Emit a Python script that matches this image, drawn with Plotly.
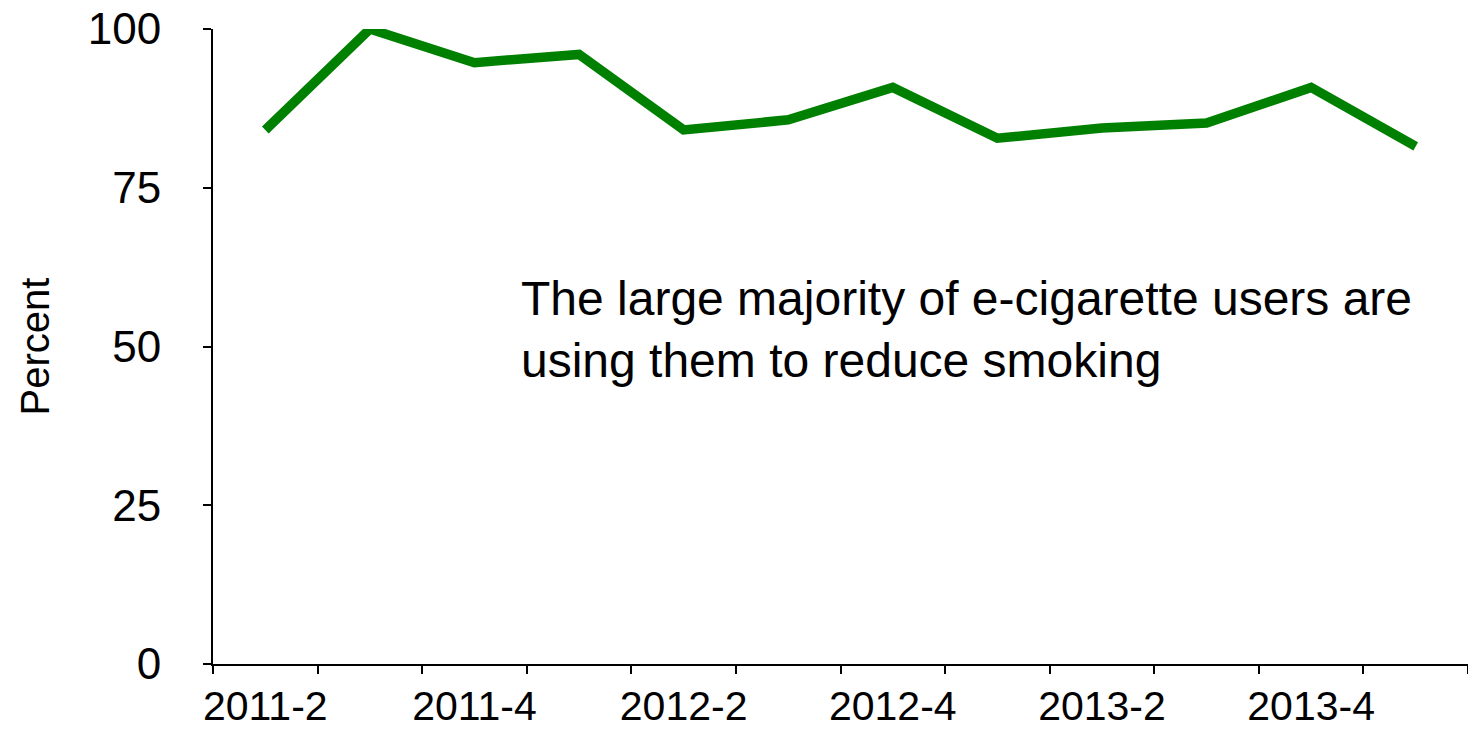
import plotly.graph_objects as go

# Survey quarters and share of e-cigarette users who use them to cut down smoking
quarters = ["2011-2", "2011-3", "2011-4", "2012-1", "2012-2", "2012-3",
            "2012-4", "2013-1", "2013-2", "2013-3", "2013-4", "2014-1"]
percent_reduce = [84.1, 100.0, 94.7, 96.0, 84.1, 85.7,
                  90.8, 82.8, 84.4, 85.2, 90.8, 81.5]
# Only every other quarter is labelled on the axis
quarter_labels = [q if i % 2 == 0 else "" for i, q in enumerate(quarters)]
y_ticks = [0, 25, 50, 75, 100]

FONT = "Liberation Sans, Arial, sans-serif"

fig = go.Figure()
fig.add_trace(go.Scatter(
    x=quarters,
    y=percent_reduce,
    mode="lines",
    line=dict(color="#008000", width=9.5),
    hoverinfo="x+y",
))

fig.add_annotation(
    xref="paper", yref="paper",
    x=0.244, y=0.62,
    xanchor="left", yanchor="top",
    align="left",
    showarrow=False,
    text="The large majority of e-cigarette users are<br>using them to reduce smoking",
    font=dict(family=FONT, size=48, color="black"),
)

fig.update_layout(
    width=1468, height=731,
    margin=dict(l=213, r=0, t=29, b=67),
    paper_bgcolor="white",
    plot_bgcolor="white",
    showlegend=False,
    font=dict(family=FONT, color="black"),
)

fig.update_xaxes(
    type="category",
    range=[-0.5, len(quarters) - 0.5],
    tickmode="array",
    tickvals=quarters,
    ticktext=quarter_labels,
    tickson="boundaries",
    tickangle=0,
    automargin=False,
    ticks="outside", ticklen=8, tickwidth=2, tickcolor="black",
    showline=True, linecolor="black", linewidth=2,
    showgrid=False, zeroline=False,
    tickfont=dict(family=FONT, size=41, color="black"),
    ticklabelstandoff=5,
)

fig.update_yaxes(
    range=[0, 100],
    tickmode="array",
    tickvals=y_ticks,
    automargin=False,
    ticks="outside", ticklen=8, tickwidth=2, tickcolor="black",
    showline=True, linecolor="black", linewidth=2,
    showgrid=False, zeroline=False,
    tickfont=dict(family=FONT, size=44, color="black"),
    ticklabelstandoff=33,
    title=dict(text="Percent", font=dict(family=FONT, size=40, color="black"), standoff=26),
)

fig.write_html("out.html")
